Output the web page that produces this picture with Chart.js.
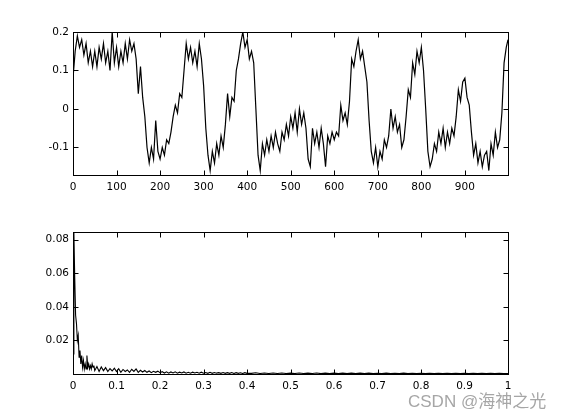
<!DOCTYPE html>
<html>
<head>
<meta charset="utf-8">
<script src="https://cdn.jsdelivr.net/npm/chart.js@4/dist/chart.umd.min.js"></script>
<style>
  html, body { margin: 0; padding: 0; background: #fff; }
  body { width: 561px; height: 420px; position: relative; overflow: hidden; }
  canvas { position: absolute; left: 0; }
  #c1 { top: 0; }
  #c2 { top: 200px; }
  #wm { position: absolute; left: 408px; top: 392px; font-family: "Liberation Sans", "Noto Sans CJK SC", sans-serif; font-size: 17px; line-height: 20px; color: #a6a6a6; white-space: nowrap; }
</style>
</head>
<body>
<canvas id="c1" width="561" height="200" style="width:561px;height:200px"></canvas>
<canvas id="c2" width="561" height="200" style="width:561px;height:200px"></canvas>
<div id="wm">CSDN @海神之光</div>
<script>
// ---- top subplot: time signal (sample index, amplitude) ----
const sampleIdx = [
  0,5,10,15,20,25,30,35,40,45, 50,55,60,65,70,75,80,85,90,95,
  100,105,110,115,120,125,130,135,140,145, 150,155,160,165,170,175,180,185,190,195,
  200,205,210,215,220,225,230,235,240,245, 250,255,260,265,270,275,280,285,290,295,
  300,305,310,315,320,325,330,335,340,345, 350,355,360,365,370,375,380,385,390,395,
  400,405,410,415,420,425,430,435,440,445, 450,455,460,465,470,475,480,485,490,495,
  500,505,510,515,520,525,530,535,540,545, 550,555,560,565,570,575,580,585,590,595,
  600,605,610,615,620,625,630,635,640,645, 650,655,660,665,670,675,680,685,690,695,
  700,705,710,715,720,725,730,735,740,745, 750,755,760,765,770,775,780,785,790,795,
  800,805,810,815,820,825,830,835,840,845, 850,855,860,865,870,875,880,885,890,895,
  900,905,910,915,920,925,930,935,940,945, 950,955,960,965,970,975,980,985,990,995,
  999
];
const signal = [
  0.08,0.15,0.19,0.16,0.18,0.14,0.17,0.12,0.15,0.11,
  0.15,0.11,0.16,0.13,0.17,0.12,0.15,0.10,0.20,0.12,
  0.16,0.11,0.15,0.12,0.17,0.13,0.18,0.15,0.17,0.13,
  0.04,0.11,0.03,-0.02,-0.10,-0.14,-0.10,-0.13,-0.03,-0.11,
  -0.13,-0.10,-0.12,-0.08,-0.09,-0.06,-0.02,0.01,-0.01,0.04,
  0.03,0.10,0.17,0.13,0.16,0.12,0.15,0.11,0.17,0.13,
  0.06,-0.05,-0.12,-0.16,-0.11,-0.14,-0.09,-0.12,-0.07,-0.10,
  -0.04,0.04,-0.02,0.03,0.02,0.10,0.13,0.17,0.20,0.16,
  0.18,0.13,0.15,0.12,0.00,-0.12,-0.16,-0.09,-0.12,-0.08,
  -0.11,-0.07,-0.10,-0.06,-0.09,-0.11,-0.06,-0.08,-0.04,-0.07,
  -0.02,-0.05,-0.01,-0.06,0.00,-0.04,-0.01,-0.05,-0.13,-0.15,
  -0.05,-0.09,-0.06,-0.10,-0.05,-0.09,-0.15,-0.07,-0.09,-0.06,
  -0.08,-0.06,-0.07,0.01,-0.03,-0.01,-0.04,0.02,0.13,0.11,
  0.15,0.18,0.13,0.15,0.11,0.07,-0.03,-0.11,-0.14,-0.10,
  -0.15,-0.11,-0.13,-0.08,-0.10,-0.07,0.00,-0.05,-0.02,-0.06,
  -0.04,-0.10,-0.08,-0.02,0.05,0.03,0.12,0.09,0.15,0.12,
  0.16,0.10,0.00,-0.11,-0.15,-0.13,-0.09,-0.11,-0.06,-0.09,
  -0.05,-0.10,-0.06,-0.09,-0.05,-0.07,-0.02,0.05,0.02,0.07,
  0.08,0.03,0.01,-0.06,-0.12,-0.09,-0.14,-0.11,-0.15,-0.12,
  -0.11,-0.16,-0.09,-0.12,-0.06,-0.10,-0.08,-0.01,0.12,0.16,
  0.18
];
const topXTicks = [0,100,200,300,400,500,600,700,800,900];
const topYTicks = [-0.1,0,0.1,0.2];

// ---- bottom subplot: spectrum (normalized frequency, magnitude) ----
const freq = [
  0,0.002,0.004,0.006,0.008,0.010,0.012,0.014,0.016,0.018,0.020,0.022,0.024,0.026,0.028,0.030,
  0.032,0.034,0.036,0.038,0.040,0.042,0.044,0.046,0.048,0.050,
  0.055,0.060,0.065,0.070,0.075,0.080,0.085,0.090,0.095,0.100,
  0.105,0.110,0.115,0.120,0.125,0.130,0.135,0.140,0.145,0.150,
  0.155,0.160,0.165,0.170,0.175,0.180,0.185,0.190,0.195,0.200,
  0.205,0.210,0.215,0.220,0.225,0.230,0.235,0.240,0.245,0.250,
  0.255,0.260,0.265,0.270,0.275,0.280,0.285,0.290,0.295,0.300,
  0.305,0.310,0.315,0.320,0.325,0.330,0.335,0.340,0.345,0.350,
  0.355,0.360,0.365,0.370,0.375,0.380,0.385,0.390,0.395,0.400,
  0.41,0.42,0.43,0.44,0.45,0.46,0.47,0.48,0.49,0.50,
  0.51,0.52,0.53,0.54,0.55,0.56,0.57,0.58,0.59,0.60,
  0.61,0.62,0.63,0.64,0.65,0.66,0.67,0.68,0.69,0.70,
  0.71,0.72,0.73,0.74,0.75,0.76,0.77,0.78,0.79,0.80,
  0.81,0.82,0.83,0.84,0.85,0.86,0.87,0.88,0.89,0.90,
  0.91,0.92,0.93,0.94,0.95,0.96,0.97,0.98,0.99,1.00
];
const magnitude = [
  0.012,0.0845,0.057,0.035,0.030,0.020,0.023,0.010,0.014,0.006,0.011,0.004,0.008,0.003,0.006,0.003,
  0.011,0.004,0.006,0.003,0.005,0.003,0.006,0.004,0.005,0.002,
  0.0045,0.0015,0.0042,0.002,0.0038,0.0015,0.0032,0.0018,0.0034,0.0015,
  0.0032,0.001,0.0027,0.0015,0.0024,0.001,0.0028,0.0015,0.003,0.001,
  0.0022,0.0012,0.0021,0.001,0.0018,0.0008,0.0016,0.001,0.0017,0.0008,
  0.0014,0.0006,0.0013,0.0005,0.0012,0.0006,0.0013,0.0005,0.0011,0.0006,
  0.0012,0.0005,0.001,0.0005,0.0011,0.0006,0.001,0.0005,0.0011,0.0005,
  0.0009,0.0004,0.001,0.0004,0.0009,0.0005,0.0008,0.0004,0.0009,0.0004,
  0.0008,0.0004,0.0009,0.0003,0.0008,0.0004,0.0007,0.0003,0.0008,0.0004,
  0.0004,0.0007,0.0003,0.0006,0.0003,0.0006,0.0003,0.0006,0.0003,0.0005,
  0.0003,0.0006,0.0003,0.0005,0.0003,0.0006,0.0002,0.0005,0.0003,0.0005,
  0.0003,0.0005,0.0002,0.0005,0.0003,0.0005,0.0002,0.0005,0.0003,0.0004,
  0.0003,0.0005,0.0002,0.0004,0.0003,0.0005,0.0002,0.0004,0.0003,0.0004,
  0.0002,0.0004,0.0003,0.0004,0.0002,0.0004,0.0003,0.0004,0.0002,0.0004,
  0.0003,0.0004,0.0002,0.0004,0.0003,0.0004,0.0002,0.0004,0.0003,0.0003
];
const botXTicks = [0,0.1,0.2,0.3,0.4,0.5,0.6,0.7,0.8,0.9,1];
const botYTicks = [0.02,0.04,0.06,0.08];

Chart.defaults.font.family = '"DejaVu Sans", "Liberation Sans", Arial, sans-serif';
Chart.defaults.font.size = 10.5;
Chart.defaults.color = '#000';

// MATLAB-style box with inward ticks on all four sides
const matlabBox = {
  id: 'matlabBox',
  afterDraw(chart) {
    const { ctx, chartArea: a, scales } = chart;
    const L = 5;
    ctx.save();
    ctx.strokeStyle = '#000';
    ctx.lineWidth = 1;
    ctx.beginPath();
    const l = Math.round(a.left) + 0.5, r = Math.round(a.right) + 0.5;
    const t = Math.round(a.top) + 0.5, b = Math.round(a.bottom) + 0.5;
    scales.x.ticks.forEach(tk => {
      const px = Math.round(scales.x.getPixelForValue(tk.value)) + 0.5;
      ctx.moveTo(px, b); ctx.lineTo(px, b - L);
      ctx.moveTo(px, t); ctx.lineTo(px, t + L);
    });
    scales.y.ticks.forEach(tk => {
      const py = Math.round(scales.y.getPixelForValue(tk.value)) + 0.5;
      ctx.moveTo(l, py); ctx.lineTo(l + L, py);
      ctx.moveTo(r, py); ctx.lineTo(r - L, py);
    });
    ctx.stroke();
    ctx.strokeRect(l, t, r - l, b - t);
    ctx.restore();
  }
};

function makeChart(id, xs, ys, xr, yr, xTicks, yTicks, xH, lw) {
  const pts = xs.map((x, i) => ({ x: x, y: ys[i] }));
  return new Chart(document.getElementById(id), {
    type: 'line',
    data: { datasets: [{ data: pts, borderColor: '#000', borderWidth: lw, pointRadius: 0, tension: 0, fill: false }] },
    options: {
      responsive: false,
      animation: false,
      devicePixelRatio: 1,
      parsing: false,
      normalized: true,
      layout: { padding: { top: 32, right: 53, left: 0, bottom: 0 } },
      plugins: { legend: { display: false }, tooltip: { enabled: false } },
      scales: {
        x: {
          type: 'linear', min: xr[0], max: xr[1],
          grid: { display: false, drawTicks: false }, border: { display: false },
          afterBuildTicks: s => { s.ticks = xTicks.map(v => ({ value: v })); },
          afterFit: s => { s.height = xH; },
          ticks: { padding: 6, maxRotation: 0, autoSkip: false, callback: v => String(v) }
        },
        y: {
          type: 'linear', min: yr[0], max: yr[1],
          grid: { display: false, drawTicks: false }, border: { display: false },
          afterBuildTicks: s => { s.ticks = yTicks.map(v => ({ value: v })); },
          afterFit: s => { s.width = 73; },
          ticks: { padding: 4, autoSkip: false, callback: v => String(v) }
        }
      }
    },
    plugins: [matlabBox]
  });
}

makeChart('c1', sampleIdx, signal, [0, 999], [-0.1715, 0.2], topXTicks, topYTicks, 25, 1.2);
makeChart('c2', freq, magnitude, [0, 1], [0, 0.0845], botXTicks, botYTicks, 26, 1.1);
</script>
</body>
</html>
